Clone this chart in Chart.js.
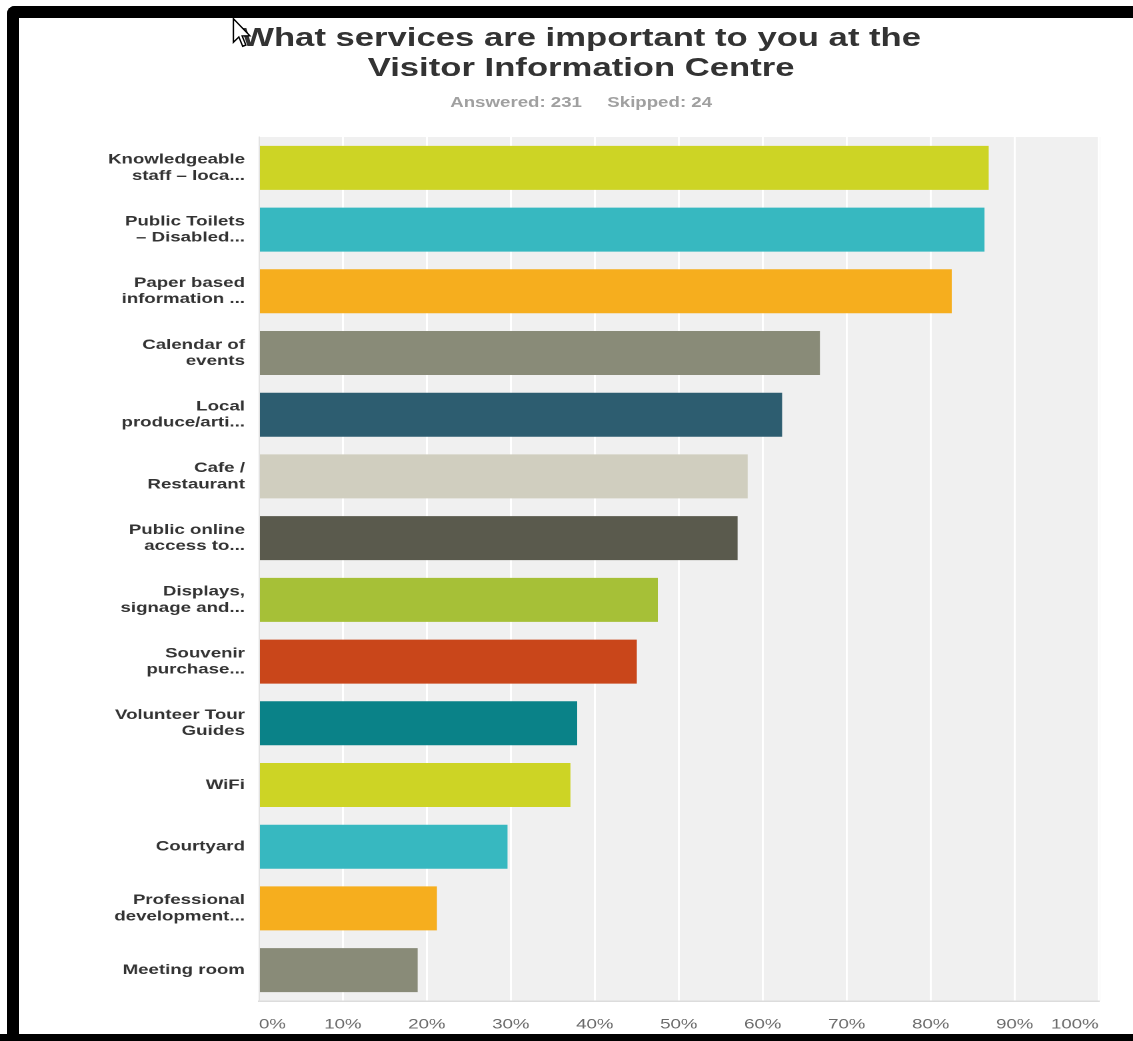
<!DOCTYPE html>
<html>
<head>
<meta charset="utf-8">
<script src="https://cdn.jsdelivr.net/npm/chart.js@4/dist/chart.umd.min.js"></script>
<style>
  html, body { margin: 0; padding: 0; background: #fff; }
  body { width: 1133px; height: 1041px; position: relative; overflow: hidden; font-family: "Liberation Sans", Arial, sans-serif; }
  /* the screenshot is stretched horizontally (4:3 shown as 16:9), so the whole survey panel is scaled in x */
  #stage { position: absolute; left: 0; top: 0; width: 850px; height: 1041px; transform: scaleX(1.33294); transform-origin: 0 0; }
  #title { position: absolute; left: 0; top: 22px; width: 872px; text-align: center; font-weight: bold; font-size: 26px; line-height: 30px; color: #333; }
  #sub { position: absolute; left: 0; top: 94px; width: 872px; text-align: center; font-weight: bold; font-size: 14px; line-height: 16px; color: #a0a0a0; }
  #sub span + span { margin-left: 19px; }
  #chart { position: absolute; left: 0; top: 0; }
  .frame { position: absolute; background: #000; }
  #cursor { position: absolute; left: 232px; top: 18px; }
</style>
</head>
<body>
<div id="stage">
  <div id="title">What services are important to you at the<br>Visitor Information Centre</div>
  <div id="sub"><span>Answered: 231</span><span>Skipped: 24</span></div>
  <canvas id="chart" width="850" height="1041"></canvas>
</div>
<div class="frame" style="left:7px;top:6px;width:1126px;height:12px;border-top-left-radius:8px;"></div>
<div class="frame" style="left:7px;top:6px;width:12px;height:1035px;border-top-left-radius:8px;"></div>
<div class="frame" style="left:0;top:1034px;width:1133px;height:7px;"></div>
<svg id="cursor" width="20" height="30" viewBox="0 0 13 21">
  <polygon points="0.5,0.5 0.5,17 4.3,13.3 7,19.8 9.2,18.9 6.6,12.5 12,12.5" fill="#fff" stroke="#000" stroke-width="1"/>
</svg>
<script>
const categories = [
  ['Knowledgeable', 'staff \u2013 loca...'],
  ['Public Toilets', '\u2013 Disabled...'],
  ['Paper based', 'information ...'],
  ['Calendar of', 'events'],
  ['Local', 'produce/arti...'],
  ['Cafe /', 'Restaurant'],
  ['Public online', 'access to...'],
  ['Displays,', 'signage and...'],
  ['Souvenir', 'purchase...'],
  ['Volunteer Tour', 'Guides'],
  'WiFi',
  'Courtyard',
  ['Professional', 'development...'],
  'Meeting room',
];

const percentValues = [86.9, 86.4, 82.5, 66.8, 62.3, 58.2, 57.0, 47.5, 45.0, 37.9, 37.1, 29.6, 21.2, 18.9];

const barColors = [
  '#cdd425', '#37b8c0', '#f6ae1e', '#898b78', '#2d5d70', '#d0cebf', '#5a5a4d',
  '#a6c037', '#c9461a', '#0a8288', '#cdd425', '#37b8c0', '#f6ae1e', '#898b78',
];

const tickValues = [0, 10, 20, 30, 40, 50, 60, 70, 80, 90, 100];

// light grey panel behind the bars
const plotBackground = {
  id: 'plotBackground',
  beforeDraw(chart) {
    const { ctx, chartArea } = chart;
    ctx.save();
    ctx.fillStyle = '#f0f0f0';
    ctx.fillRect(chartArea.left, chartArea.top, chartArea.right - chartArea.left + 1, chartArea.bottom - chartArea.top);
    ctx.restore();
  },
};

const ctx = document.getElementById('chart');

// eslint-disable-next-line no-undef, no-new
new Chart(ctx, {
  type: 'bar',
  data: {
    labels: categories,
    datasets: [
      {
        data: percentValues,
        backgroundColor: barColors,
        borderWidth: 0,
        barPercentage: 0.713,
        categoryPercentage: 1,
      },
    ],
  },
  plugins: [plotBackground],
  options: {
    indexAxis: 'y',
    responsive: false,
    animation: false,
    devicePixelRatio: 2,
    layout: {
      padding: { left: 10, top: 137, right: 25.75, bottom: 0 },
    },
    plugins: {
      legend: { display: false },
      tooltip: { enabled: false },
    },
    scales: {
      x: {
        min: 0,
        max: 100,
        afterBuildTicks(scale) {
          scale.ticks = tickValues.map((v) => ({ value: v }));
        },
        afterFit(scale) {
          scale.height = 40;
        },
        ticks: {
          align: 'inner',
          padding: 15,
          color: '#6a6a6a',
          font: { family: '"Liberation Sans", Arial, sans-serif', size: 14 },
          callback: (v) => `${v}%`,
        },
        grid: {
          color: '#ffffff',
          lineWidth: 1.5,
          drawTicks: false,
        },
        border: {
          color: '#dcdcdc',
          width: 1.5,
        },
      },
      y: {
        afterFit(scale) {
          scale.width = 184.25;
        },
        ticks: {
          padding: 10.5,
          color: '#333333',
          font: { family: '"Liberation Sans", Arial, sans-serif', size: 14, weight: 'bold', lineHeight: 1.15 },
        },
        grid: {
          display: false,
          drawTicks: false,
        },
        border: {
          color: '#e2e2e2',
          width: 1,
        },
      },
    },
  },
});
</script>
</body>
</html>
